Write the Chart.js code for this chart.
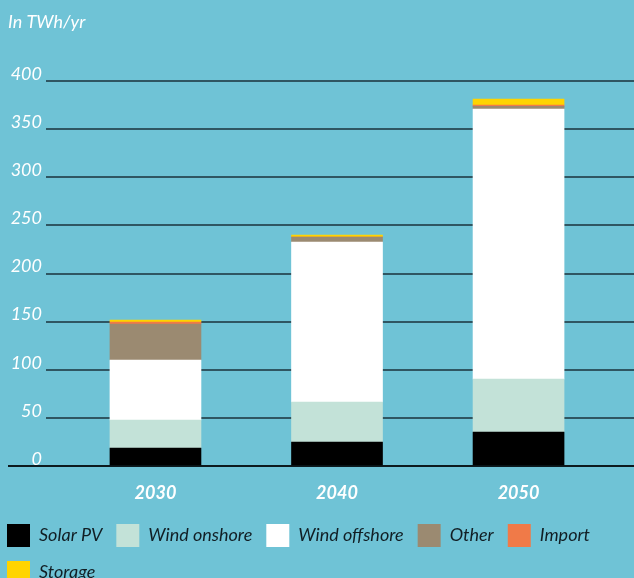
<!DOCTYPE html>
<html>
<head>
<meta charset="utf-8">
<script src="https://cdn.jsdelivr.net/npm/chart.js@4/dist/chart.umd.min.js"></script>
<style>
  html, body { margin: 0; padding: 0; background: #6fc3d6; overflow: hidden; }
  #wrap { position: relative; width: 634px; height: 594px; }
</style>
</head>
<body>
<div id="wrap"><canvas id="c"></canvas></div>
<script>
const categories = ['2030', '2040', '2050'];
const solarPV = [18.7, 24.9, 35.3];
const windOnshore = [29.1, 41.6, 55.1];
const windOffshore = [62.3, 166.2, 280.5];
const other = [37.4, 5.2, 2.8];
const importVals = [2.1, 0, 1.4];
const storage = [2.1, 2.1, 6.2];
const yTicks = [0, 50, 100, 150, 200, 250, 300, 350, 400];

const seriesNames = ['Solar PV', 'Wind onshore', 'Wind offshore', 'Other', 'Import', 'Storage'];
const seriesData = [solarPV, windOnshore, windOffshore, other, importVals, storage];
const seriesColors = ['#000000', '#c3e2d8', '#ffffff', '#9b8a71', '#f07a48', '#ffd400'];

const datasets = seriesNames.map((name, s) => ({
  label: name,
  data: seriesData[s].map((v, i) => ({ x: i, y: v })),
  backgroundColor: seriesColors[s],
  borderWidth: 0,
  barThickness: 91
}));

const shiftPlugin = {
  id: 'shiftBoxes',
  afterLayout(chart) {
    if (chart.legend) { chart.legend.left = -7; }
    if (chart.titleBlock) { chart.titleBlock.left = 8; }
  }
};

new Chart(document.getElementById('c'), {
  type: 'bar',
  data: { datasets },
  plugins: [shiftPlugin],
  options: {
    responsive: true,
    maintainAspectRatio: false,
    animation: false,
    layout: { padding: 0 },
    plugins: {
      title: {
        display: true,
        text: 'In TWh/yr',
        align: 'start',
        color: '#ffffff',
        font: { family: 'Lato', size: 18, style: 'italic', weight: 'normal' },
        padding: { top: 11, bottom: 48.4 }
      },
      legend: {
        position: 'bottom',
        align: 'start',
        labels: {
          boxWidth: 23,
          boxHeight: 23,
          padding: 14,
          color: '#111e24',
          font: { family: 'Lato', size: 18, style: 'italic', weight: 'normal' }
        }
      },
      tooltip: { enabled: false }
    },
    scales: {
      x: {
        type: 'linear',
        stacked: true,
        offset: false,
        min: -0.603,
        max: 2.636,
        grid: { display: false, offset: false },
        border: { display: false },
        afterBuildTicks(scale) { scale.ticks = categories.map((c, i) => ({ value: i })); },
        afterFit(scale) { scale.height = 44; },
        ticks: {
          color: '#ffffff',
          padding: 8,
          font: { family: 'Lato', size: 18, style: 'italic', weight: 'bold' },
          callback: (v) => categories[v]
        }
      },
      y: {
        stacked: true,
        min: 0,
        max: 400,
        afterBuildTicks(scale) { scale.ticks = yTicks.map(v => ({ value: v })); },
        afterFit(scale) { scale.width = 46; },
        border: { display: false },
        grid: {
          color: (ctx) => ctx.tick && ctx.tick.value === 0 ? '#0d1a1e' : '#2f5662',
          lineWidth: 2,
          drawTicks: true,
          tickLength: 38,
          tickWidth: 2,
          tickColor: (ctx) => ctx.tick && ctx.tick.value === 0 ? '#0d1a1e' : 'rgba(0,0,0,0)'
        },
        ticks: {
          color: '#ffffff',
          padding: -34,
          labelOffset: -7,
          font: { family: 'Lato', size: 18, style: 'italic', weight: 'normal' },
          callback: (v) => String(v)
        }
      }
    }
  }
});
</script>
</body>
</html>
